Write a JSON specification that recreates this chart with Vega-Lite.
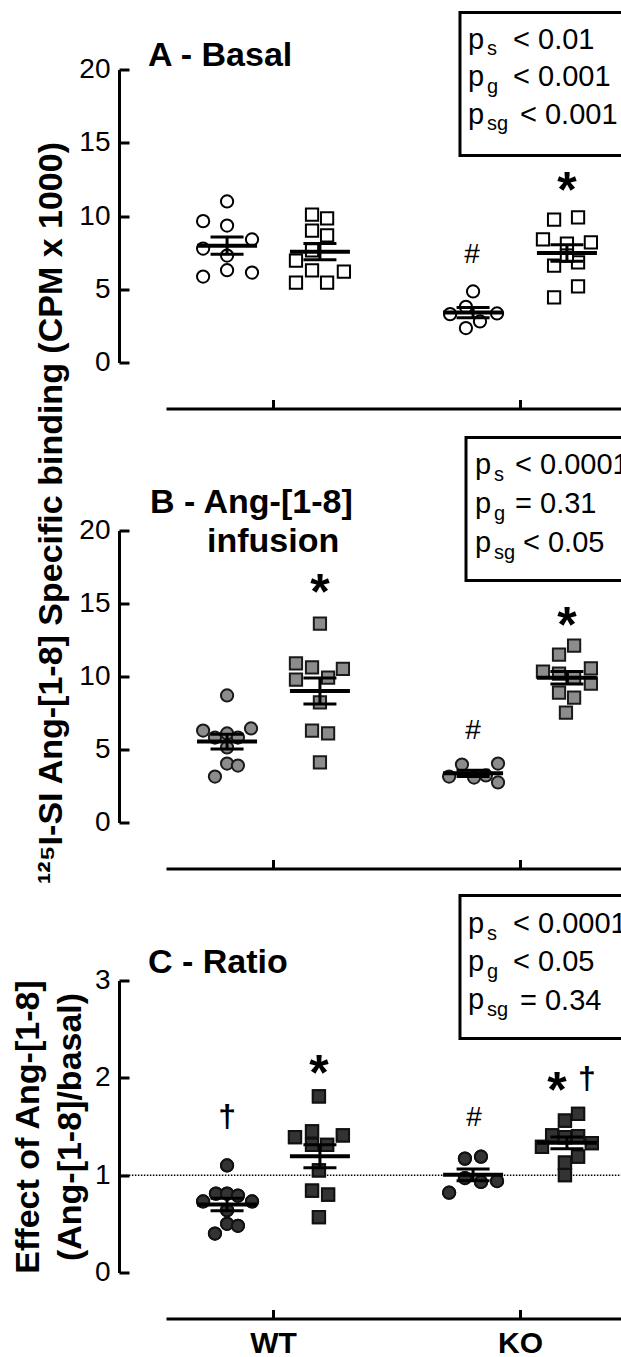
{
  "$schema": "https://vega.github.io/schema/vega-lite/v6.json",
  "background": "white",
  "padding": {"left": 11, "top": 10.5, "right": 0, "bottom": 0},
  "config": {"view": {"stroke": null}, "font": "Liberation Sans", "axis": {"grid": false}},
  "datasets": {
    "one": [{}],
    "pts": [
      {"p":"A","s":"circle","x":0.814,"xc":0.814,"v":10.99},{"p":"A","s":"circle","x":0.717,"xc":0.814,"v":9.65},{"p":"A","s":"circle","x":0.814,"xc":0.814,"v":9.35},{"p":"A","s":"circle","x":0.915,"xc":0.814,"v":8.4},{"p":"A","s":"circle","x":0.717,"xc":0.814,"v":7.78},{"p":"A","s":"circle","x":0.814,"xc":0.814,"v":7.3},{"p":"A","s":"circle","x":0.814,"xc":0.814,"v":6.3},{"p":"A","s":"circle","x":0.717,"xc":0.814,"v":5.87},{"p":"A","s":"circle","x":0.915,"xc":0.814,"v":6.14},
      {"p":"A","s":"square","x":1.158,"xc":1.19,"v":10.1},{"p":"A","s":"square","x":1.219,"xc":1.19,"v":9.83},{"p":"A","s":"square","x":1.158,"xc":1.19,"v":9.0},{"p":"A","s":"square","x":1.219,"xc":1.19,"v":8.67},{"p":"A","s":"square","x":1.093,"xc":1.19,"v":6.96},{"p":"A","s":"square","x":1.158,"xc":1.19,"v":6.28},{"p":"A","s":"square","x":1.287,"xc":1.19,"v":6.2},{"p":"A","s":"square","x":1.093,"xc":1.19,"v":5.46},{"p":"A","s":"square","x":1.219,"xc":1.19,"v":5.46},{"p":"A","s":"square","x":1.158,"xc":1.19,"v":7.65},
      {"p":"A","s":"circle","x":1.81,"xc":1.81,"v":4.85},{"p":"A","s":"circle","x":1.781,"xc":1.81,"v":3.8},{"p":"A","s":"circle","x":1.717,"xc":1.81,"v":3.3},{"p":"A","s":"circle","x":1.907,"xc":1.81,"v":3.35},{"p":"A","s":"circle","x":1.838,"xc":1.81,"v":2.8},{"p":"A","s":"circle","x":1.781,"xc":1.81,"v":2.35},
      {"p":"A","s":"square","x":2.138,"xc":2.19,"v":9.76},{"p":"A","s":"square","x":2.235,"xc":2.19,"v":9.9},{"p":"A","s":"square","x":2.093,"xc":2.19,"v":8.4},{"p":"A","s":"square","x":2.287,"xc":2.19,"v":8.2},{"p":"A","s":"square","x":2.19,"xc":2.19,"v":8.12},{"p":"A","s":"square","x":2.138,"xc":2.19,"v":6.62},{"p":"A","s":"square","x":2.235,"xc":2.19,"v":6.83},{"p":"A","s":"square","x":2.235,"xc":2.19,"v":5.19},{"p":"A","s":"square","x":2.138,"xc":2.19,"v":4.44},{"p":"A","s":"square","x":2.19,"xc":2.19,"v":7.3},
      {"p":"B","s":"circle","x":0.814,"xc":0.814,"v":8.7},{"p":"B","s":"circle","x":0.717,"xc":0.814,"v":6.3},{"p":"B","s":"circle","x":0.911,"xc":0.814,"v":6.44},{"p":"B","s":"circle","x":0.765,"xc":0.814,"v":5.82},{"p":"B","s":"circle","x":0.814,"xc":0.814,"v":6.1},{"p":"B","s":"circle","x":0.858,"xc":0.814,"v":5.82},{"p":"B","s":"circle","x":0.814,"xc":0.814,"v":5.14},{"p":"B","s":"circle","x":0.814,"xc":0.814,"v":4.04},{"p":"B","s":"circle","x":0.858,"xc":0.814,"v":3.9},{"p":"B","s":"circle","x":0.765,"xc":0.814,"v":3.15},
      {"p":"B","s":"square","x":1.19,"xc":1.19,"v":13.63},{"p":"B","s":"square","x":1.093,"xc":1.19,"v":10.9},{"p":"B","s":"square","x":1.158,"xc":1.19,"v":10.62},{"p":"B","s":"square","x":1.283,"xc":1.19,"v":10.53},{"p":"B","s":"square","x":1.093,"xc":1.19,"v":9.79},{"p":"B","s":"square","x":1.223,"xc":1.19,"v":9.93},{"p":"B","s":"square","x":1.19,"xc":1.19,"v":8.22},{"p":"B","s":"square","x":1.158,"xc":1.19,"v":6.3},{"p":"B","s":"square","x":1.223,"xc":1.19,"v":6.1},{"p":"B","s":"square","x":1.19,"xc":1.19,"v":4.11},
      {"p":"B","s":"circle","x":1.765,"xc":1.81,"v":3.97},{"p":"B","s":"circle","x":1.911,"xc":1.81,"v":4.04},{"p":"B","s":"circle","x":1.713,"xc":1.81,"v":3.15},{"p":"B","s":"circle","x":1.814,"xc":1.81,"v":3.08},{"p":"B","s":"circle","x":1.862,"xc":1.81,"v":3.22},{"p":"B","s":"circle","x":1.911,"xc":1.81,"v":2.74},
      {"p":"B","s":"square","x":2.219,"xc":2.19,"v":12.12},{"p":"B","s":"square","x":2.158,"xc":2.19,"v":11.5},{"p":"B","s":"square","x":2.093,"xc":2.19,"v":10.34},{"p":"B","s":"square","x":2.287,"xc":2.19,"v":10.55},{"p":"B","s":"square","x":2.158,"xc":2.19,"v":10.2},{"p":"B","s":"square","x":2.219,"xc":2.19,"v":9.93},{"p":"B","s":"square","x":2.287,"xc":2.19,"v":9.52},{"p":"B","s":"square","x":2.158,"xc":2.19,"v":8.9},{"p":"B","s":"square","x":2.219,"xc":2.19,"v":8.56},{"p":"B","s":"square","x":2.186,"xc":2.19,"v":7.53},
      {"p":"C","s":"circle","x":0.814,"xc":0.814,"v":1.10},{"p":"C","s":"circle","x":0.717,"xc":0.814,"v":0.73},{"p":"C","s":"circle","x":0.769,"xc":0.814,"v":0.81},{"p":"C","s":"circle","x":0.814,"xc":0.814,"v":0.81},{"p":"C","s":"circle","x":0.858,"xc":0.814,"v":0.79},{"p":"C","s":"circle","x":0.915,"xc":0.814,"v":0.73},{"p":"C","s":"circle","x":0.814,"xc":0.814,"v":0.64},{"p":"C","s":"circle","x":0.814,"xc":0.814,"v":0.5},{"p":"C","s":"circle","x":0.858,"xc":0.814,"v":0.48},{"p":"C","s":"circle","x":0.765,"xc":0.814,"v":0.4},
      {"p":"C","s":"square","x":1.186,"xc":1.19,"v":1.81},{"p":"C","s":"square","x":1.158,"xc":1.19,"v":1.45},{"p":"C","s":"square","x":1.089,"xc":1.19,"v":1.39},{"p":"C","s":"square","x":1.283,"xc":1.19,"v":1.41},{"p":"C","s":"square","x":1.158,"xc":1.19,"v":1.31},{"p":"C","s":"square","x":1.219,"xc":1.19,"v":1.31},{"p":"C","s":"square","x":1.186,"xc":1.19,"v":1.05},{"p":"C","s":"square","x":1.158,"xc":1.19,"v":0.84},{"p":"C","s":"square","x":1.223,"xc":1.19,"v":0.8},{"p":"C","s":"square","x":1.186,"xc":1.19,"v":0.57},
      {"p":"C","s":"circle","x":1.777,"xc":1.81,"v":1.17},{"p":"C","s":"circle","x":1.842,"xc":1.81,"v":1.19},{"p":"C","s":"circle","x":1.777,"xc":1.81,"v":0.97},{"p":"C","s":"circle","x":1.842,"xc":1.81,"v":0.93},{"p":"C","s":"circle","x":1.907,"xc":1.81,"v":0.94},{"p":"C","s":"circle","x":1.713,"xc":1.81,"v":0.82},
      {"p":"C","s":"square","x":2.235,"xc":2.19,"v":1.63},{"p":"C","s":"square","x":2.182,"xc":2.19,"v":1.56},{"p":"C","s":"square","x":2.13,"xc":2.19,"v":1.41},{"p":"C","s":"square","x":2.235,"xc":2.19,"v":1.40},{"p":"C","s":"square","x":2.089,"xc":2.19,"v":1.29},{"p":"C","s":"square","x":2.291,"xc":2.19,"v":1.33},{"p":"C","s":"square","x":2.182,"xc":2.19,"v":1.39},{"p":"C","s":"square","x":2.235,"xc":2.19,"v":1.19},{"p":"C","s":"square","x":2.182,"xc":2.19,"v":1.13},{"p":"C","s":"square","x":2.182,"xc":2.19,"v":1.0}
    ]
  },
  "spacing": 168,
  "bounds": "flush",
  "vconcat": [
    {
      "width": 455, "height": 293,
      "layer": [
        {"data": {"name": "pts"}, "transform": [{"filter": "datum.p == 'A'"}],
         "mark": {"type": "point", "filled": true, "fill": "white", "stroke": "black", "strokeWidth": 2, "size": 150, "opacity": 1},
         "encoding": {
           "x": {"field": "x", "type": "quantitative", "scale": {"domain": [0.5668, 2.4089], "nice": false, "zero": false},
                 "axis": {"values": [1, 2], "labels": false, "title": null, "offset": 46, "tickSize": -9, "tickWidth": 3, "domainWidth": 3, "domainColor": "black", "tickColor": "black"}},
           "y": {"field": "v", "type": "quantitative", "scale": {"domain": [0, 20], "nice": false},
                 "axis": {"values": [0, 5, 10, 15, 20], "format": "d", "title": null, "offset": 47, "tickSize": -10, "tickWidth": 3, "domainWidth": 3, "domainColor": "black", "tickColor": "black", "labelPadding": 19, "labelFontSize": 28, "labelColor": "black", "labelFont": "Liberation Sans"}},
           "shape": {"field": "s", "type": "nominal", "scale": {"domain": ["circle", "square"], "range": ["circle", "square"]}, "legend": null}
         }},
        {"data": {"name": "pts"}, "transform": [{"filter": "datum.p == 'A'"}],
         "mark": {"type": "errorbar", "extent": "stderr", "thickness": 3, "size": 33, "color": "black", "ticks": {"opacity": 1, "color": "black"}, "rule": {"opacity": 1, "color": "black"}},
         "encoding": {"x": {"field": "xc", "type": "quantitative", "title": null}, "y": {"field": "v", "type": "quantitative", "title": null}}},
        {"data": {"name": "pts"}, "transform": [{"filter": "datum.p == 'A'"}],
         "mark": {"type": "tick", "orient": "horizontal", "size": 60, "thickness": 4, "color": "black", "opacity": 1},
         "encoding": {"x": {"field": "xc", "type": "quantitative", "title": null}, "y": {"aggregate": "mean", "field": "v", "type": "quantitative", "title": null}}},
        {"data": {"name": "one"}, "mark": {"type": "text", "text": "A - Basal", "fontSize": 34, "fontWeight": "bold", "align": "left", "baseline": "alphabetic", "color": "black"},
         "encoding": {"x": {"datum": 0.494, "type": "quantitative"}, "y": {"datum": 20.27, "type": "quantitative"}}},
        {"data": {"name": "one"}, "mark": {"type": "rect", "fill": "transparent", "stroke": "black", "strokeWidth": 3},
         "encoding": {"x": {"datum": 1.757, "type": "quantitative"}, "x2": {"datum": 2.6}, "y": {"datum": 23.89, "type": "quantitative"}, "y2": {"datum": 14.13}}},
        {"data": {"name": "one"}, "mark": {"type": "text", "text": ["p", "p", "p"], "lineHeight": 37.5, "fontSize": 29, "align": "left", "baseline": "alphabetic", "color": "black"},
         "encoding": {"x": {"datum": 1.7895, "type": "quantitative"}, "y": {"datum": 21.43, "type": "quantitative"}}},
        {"data": {"name": "one"}, "mark": {"type": "text", "text": ["s", "g", "sg"], "lineHeight": 37.5, "fontSize": 20, "align": "left", "baseline": "alphabetic", "color": "black"},
         "encoding": {"x": {"datum": 1.8664, "type": "quantitative"}, "y": {"datum": 20.96, "type": "quantitative"}}},
        {"data": {"name": "one"}, "mark": {"type": "text", "text": ["< 0.01", "< 0.001"], "lineHeight": 37.5, "fontSize": 29, "align": "left", "baseline": "alphabetic", "color": "black"},
         "encoding": {"x": {"datum": 1.9717, "type": "quantitative"}, "y": {"datum": 21.43, "type": "quantitative"}}},
        {"data": {"name": "one"}, "mark": {"type": "text", "text": "< 0.001", "fontSize": 29, "align": "left", "baseline": "alphabetic", "color": "black"},
         "encoding": {"x": {"datum": 2.0, "type": "quantitative"}, "y": {"datum": 16.31, "type": "quantitative"}}},
        {"data": {"name": "one"}, "mark": {"type": "text", "text": "*", "fontSize": 50, "fontWeight": "bold", "align": "center", "baseline": "alphabetic", "color": "black"},
         "encoding": {"x": {"datum": 2.19, "type": "quantitative"}, "y": {"datum": 10.6, "type": "quantitative"}}},
        {"data": {"name": "one"}, "mark": {"type": "text", "text": "#", "fontSize": 28, "align": "center", "baseline": "alphabetic", "color": "black"},
         "encoding": {"x": {"datum": 1.806, "type": "quantitative"}, "y": {"datum": 6.76, "type": "quantitative"}}}
      ]
    },
    {
      "spacing": 158,
      "bounds": "flush",
      "vconcat": [
        {
          "width": 455, "height": 292,
          "layer": [
            {"data": {"name": "pts"}, "transform": [{"filter": "datum.p == 'B'"}],
             "mark": {"type": "point", "filled": true, "fill": "#8c8c8c", "stroke": "#1a1a1a", "strokeWidth": 2, "size": 150, "opacity": 1},
             "encoding": {
               "x": {"field": "x", "type": "quantitative", "scale": {"domain": [0.5668, 2.4089], "nice": false, "zero": false},
                     "axis": {"values": [1, 2], "labels": false, "title": null, "offset": 46, "tickSize": -9, "tickWidth": 3, "domainWidth": 3, "domainColor": "black", "tickColor": "black"}},
               "y": {"field": "v", "type": "quantitative", "scale": {"domain": [0, 20], "nice": false}, "title": "¹²⁵I-SI Ang-[1-8] Specific binding (CPM x 1000)",
                     "axis": {"values": [0, 5, 10, 15, 20], "format": "d", "titleFontSize": 34, "titleFontWeight": "bold", "titleColor": "black", "titleFont": "Liberation Sans", "titlePadding": 10, "titleY": -18, "offset": 47, "tickSize": -10, "tickWidth": 3, "domainWidth": 3, "domainColor": "black", "tickColor": "black", "labelPadding": 19, "labelFontSize": 28, "labelColor": "black", "labelFont": "Liberation Sans"}},
               "shape": {"field": "s", "type": "nominal", "scale": {"domain": ["circle", "square"], "range": ["circle", "square"]}, "legend": null}
             }},
            {"data": {"name": "pts"}, "transform": [{"filter": "datum.p == 'B'"}],
             "mark": {"type": "errorbar", "extent": "stderr", "thickness": 3, "size": 33, "color": "black", "ticks": {"opacity": 1, "color": "black"}, "rule": {"opacity": 1, "color": "black"}},
             "encoding": {"x": {"field": "xc", "type": "quantitative", "title": null}, "y": {"field": "v", "type": "quantitative", "title": "¹²⁵I-SI Ang-[1-8] Specific binding (CPM x 1000)"}}},
            {"data": {"name": "pts"}, "transform": [{"filter": "datum.p == 'B'"}],
             "mark": {"type": "tick", "orient": "horizontal", "size": 60, "thickness": 4, "color": "black", "opacity": 1},
             "encoding": {"x": {"field": "xc", "type": "quantitative", "title": null}, "y": {"aggregate": "mean", "field": "v", "type": "quantitative", "title": "¹²⁵I-SI Ang-[1-8] Specific binding (CPM x 1000)"}}},
            {"data": {"name": "one"}, "mark": {"type": "text", "text": "B - Ang-[1-8]", "fontSize": 34, "fontWeight": "bold", "align": "left", "baseline": "alphabetic", "color": "black"},
             "encoding": {"x": {"datum": 0.502, "type": "quantitative"}, "y": {"datum": 21.23, "type": "quantitative"}}},
            {"data": {"name": "one"}, "mark": {"type": "text", "text": "infusion", "fontSize": 34, "fontWeight": "bold", "align": "left", "baseline": "alphabetic", "color": "black"},
             "encoding": {"x": {"datum": 0.733, "type": "quantitative"}, "y": {"datum": 18.56, "type": "quantitative"}}},
            {"data": {"name": "one"}, "mark": {"type": "rect", "fill": "transparent", "stroke": "black", "strokeWidth": 3},
             "encoding": {"x": {"datum": 1.7814, "type": "quantitative"}, "x2": {"datum": 2.6}, "y": {"datum": 26.37, "type": "quantitative"}, "y2": {"datum": 16.58}}},
            {"data": {"name": "one"}, "mark": {"type": "text", "text": ["p", "p", "p"], "lineHeight": 39, "fontSize": 29, "align": "left", "baseline": "alphabetic", "color": "black"},
             "encoding": {"x": {"datum": 1.818, "type": "quantitative"}, "y": {"datum": 23.9, "type": "quantitative"}}},
            {"data": {"name": "one"}, "mark": {"type": "text", "text": ["s", "g", "sg"], "lineHeight": 39, "fontSize": 20, "align": "left", "baseline": "alphabetic", "color": "black"},
             "encoding": {"x": {"datum": 1.895, "type": "quantitative"}, "y": {"datum": 23.42, "type": "quantitative"}}},
            {"data": {"name": "one"}, "mark": {"type": "text", "text": ["< 0.0001", "= 0.31"], "lineHeight": 39, "fontSize": 29, "align": "left", "baseline": "alphabetic", "color": "black"},
             "encoding": {"x": {"datum": 1.98, "type": "quantitative"}, "y": {"datum": 23.9, "type": "quantitative"}}},
            {"data": {"name": "one"}, "mark": {"type": "text", "text": "< 0.05", "fontSize": 29, "align": "left", "baseline": "alphabetic", "color": "black"},
             "encoding": {"x": {"datum": 2.012, "type": "quantitative"}, "y": {"datum": 18.56, "type": "quantitative"}}},
            {"data": {"name": "one"}, "mark": {"type": "text", "text": "*", "fontSize": 50, "fontWeight": "bold", "align": "center", "baseline": "alphabetic", "color": "black"},
             "encoding": {"x": {"datum": 1.19, "type": "quantitative"}, "y": {"datum": 14.59, "type": "quantitative"}}},
            {"data": {"name": "one"}, "mark": {"type": "text", "text": "*", "fontSize": 50, "fontWeight": "bold", "align": "center", "baseline": "alphabetic", "color": "black"},
             "encoding": {"x": {"datum": 2.19, "type": "quantitative"}, "y": {"datum": 12.33, "type": "quantitative"}}},
            {"data": {"name": "one"}, "mark": {"type": "text", "text": "#", "fontSize": 28, "align": "center", "baseline": "alphabetic", "color": "black"},
             "encoding": {"x": {"datum": 1.81, "type": "quantitative"}, "y": {"datum": 5.75, "type": "quantitative"}}}
          ]
        },
        {
          "width": 455, "height": 292,
          "layer": [
            {"data": {"name": "pts"}, "transform": [{"filter": "datum.p == 'C'"}],
             "mark": {"type": "point", "filled": true, "fill": "#333333", "stroke": "#111111", "strokeWidth": 2, "size": 150, "opacity": 1},
             "encoding": {
               "x": {"field": "x", "type": "quantitative", "scale": {"domain": [0.5668, 2.4089], "nice": false, "zero": false},
                     "axis": {"values": [1, 2], "labelExpr": "datum.value == 1 ? 'WT' : 'KO'", "labelFontSize": 30, "labelFontWeight": "bold", "labelColor": "black", "labelFont": "Liberation Sans", "labelPadding": 19, "labelFlush": false, "title": null, "offset": 46, "tickSize": -9, "tickWidth": 3, "domainWidth": 3, "domainColor": "black", "tickColor": "black"}},
               "y": {"field": "v", "type": "quantitative", "scale": {"domain": [0, 3], "nice": false}, "title": ["Effect of Ang-[1-8]", "(Ang-[1-8]/basal)"],
                     "axis": {"values": [0, 1, 2, 3], "format": "d", "titleLineHeight": 42, "titleFontSize": 34, "titleFontWeight": "bold", "titleColor": "black", "titleFont": "Liberation Sans", "titlePadding": 7, "offset": 47, "tickSize": -10, "tickWidth": 3, "domainWidth": 3, "domainColor": "black", "tickColor": "black", "labelPadding": 19, "labelFontSize": 28, "labelColor": "black", "labelFont": "Liberation Sans"}},
               "shape": {"field": "s", "type": "nominal", "scale": {"domain": ["circle", "square"], "range": ["circle", "square"]}, "legend": null}
             }},
            {"data": {"name": "one"}, "mark": {"type": "rule", "strokeDash": [1.5, 1.5], "strokeWidth": 1.5, "color": "black"},
             "encoding": {"x": {"datum": 0.38, "type": "quantitative"}, "x2": {"datum": 2.4089}, "y": {"datum": 1, "type": "quantitative"}}},
            {"data": {"name": "pts"}, "transform": [{"filter": "datum.p == 'C'"}],
             "mark": {"type": "point", "filled": true, "fill": "#333333", "stroke": "#111111", "strokeWidth": 2, "size": 150, "opacity": 1},
             "encoding": {"x": {"field": "x", "type": "quantitative", "title": null}, "y": {"field": "v", "type": "quantitative", "title": ["Effect of Ang-[1-8]", "(Ang-[1-8]/basal)"]},
               "shape": {"field": "s", "type": "nominal", "legend": null}}},
            {"data": {"name": "pts"}, "transform": [{"filter": "datum.p == 'C'"}],
             "mark": {"type": "errorbar", "extent": "stderr", "thickness": 3, "size": 33, "color": "black", "ticks": {"opacity": 1, "color": "black"}, "rule": {"opacity": 1, "color": "black"}},
             "encoding": {"x": {"field": "xc", "type": "quantitative", "title": null}, "y": {"field": "v", "type": "quantitative", "title": ["Effect of Ang-[1-8]", "(Ang-[1-8]/basal)"]}}},
            {"data": {"name": "pts"}, "transform": [{"filter": "datum.p == 'C'"}],
             "mark": {"type": "tick", "orient": "horizontal", "size": 60, "thickness": 4, "color": "black", "opacity": 1},
             "encoding": {"x": {"field": "xc", "type": "quantitative", "title": null}, "y": {"aggregate": "mean", "field": "v", "type": "quantitative", "title": ["Effect of Ang-[1-8]", "(Ang-[1-8]/basal)"]}}},
            {"data": {"name": "one"}, "mark": {"type": "text", "text": "C - Ratio", "fontSize": 34, "fontWeight": "bold", "align": "left", "baseline": "alphabetic", "color": "black"},
             "encoding": {"x": {"datum": 0.494, "type": "quantitative"}, "y": {"datum": 3.072, "type": "quantitative"}}},
            {"data": {"name": "one"}, "mark": {"type": "rect", "fill": "transparent", "stroke": "black", "strokeWidth": 3},
             "encoding": {"x": {"datum": 1.757, "type": "quantitative"}, "x2": {"datum": 2.6}, "y": {"datum": 3.873, "type": "quantitative"}, "y2": {"datum": 2.404}}},
            {"data": {"name": "one"}, "mark": {"type": "text", "text": ["p", "p", "p"], "lineHeight": 38, "fontSize": 29, "align": "left", "baseline": "alphabetic", "color": "black"},
             "encoding": {"x": {"datum": 1.7895, "type": "quantitative"}, "y": {"datum": 3.483, "type": "quantitative"}}},
            {"data": {"name": "one"}, "mark": {"type": "text", "text": ["s", "g", "sg"], "lineHeight": 38, "fontSize": 20, "align": "left", "baseline": "alphabetic", "color": "black"},
             "encoding": {"x": {"datum": 1.8664, "type": "quantitative"}, "y": {"datum": 3.411, "type": "quantitative"}}},
            {"data": {"name": "one"}, "mark": {"type": "text", "text": ["< 0.0001", "< 0.05"], "lineHeight": 38, "fontSize": 29, "align": "left", "baseline": "alphabetic", "color": "black"},
             "encoding": {"x": {"datum": 1.9717, "type": "quantitative"}, "y": {"datum": 3.483, "type": "quantitative"}}},
            {"data": {"name": "one"}, "mark": {"type": "text", "text": "= 0.34", "fontSize": 29, "align": "left", "baseline": "alphabetic", "color": "black"},
             "encoding": {"x": {"datum": 2.0, "type": "quantitative"}, "y": {"datum": 2.702, "type": "quantitative"}}},
            {"data": {"name": "one"}, "mark": {"type": "text", "text": "†", "fontSize": 32, "fontWeight": "bold", "align": "center", "baseline": "alphabetic", "color": "black"},
             "encoding": {"x": {"datum": 0.814, "type": "quantitative"}, "y": {"datum": 1.49, "type": "quantitative"}}},
            {"data": {"name": "one"}, "mark": {"type": "text", "text": "*", "fontSize": 50, "fontWeight": "bold", "align": "center", "baseline": "alphabetic", "color": "black"},
             "encoding": {"x": {"datum": 1.186, "type": "quantitative"}, "y": {"datum": 1.88, "type": "quantitative"}}},
            {"data": {"name": "one"}, "mark": {"type": "text", "text": "#", "fontSize": 28, "align": "center", "baseline": "alphabetic", "color": "black"},
             "encoding": {"x": {"datum": 1.814, "type": "quantitative"}, "y": {"datum": 1.51, "type": "quantitative"}}},
            {"data": {"name": "one"}, "mark": {"type": "text", "text": "*", "fontSize": 50, "fontWeight": "bold", "align": "center", "baseline": "alphabetic", "color": "black"},
             "encoding": {"x": {"datum": 2.15, "type": "quantitative"}, "y": {"datum": 1.705, "type": "quantitative"}}},
            {"data": {"name": "one"}, "mark": {"type": "text", "text": "†", "fontSize": 32, "fontWeight": "bold", "align": "center", "baseline": "alphabetic", "color": "black"},
             "encoding": {"x": {"datum": 2.271, "type": "quantitative"}, "y": {"datum": 1.89, "type": "quantitative"}}}
          ]
        }
      ]
    }
  ]
}
